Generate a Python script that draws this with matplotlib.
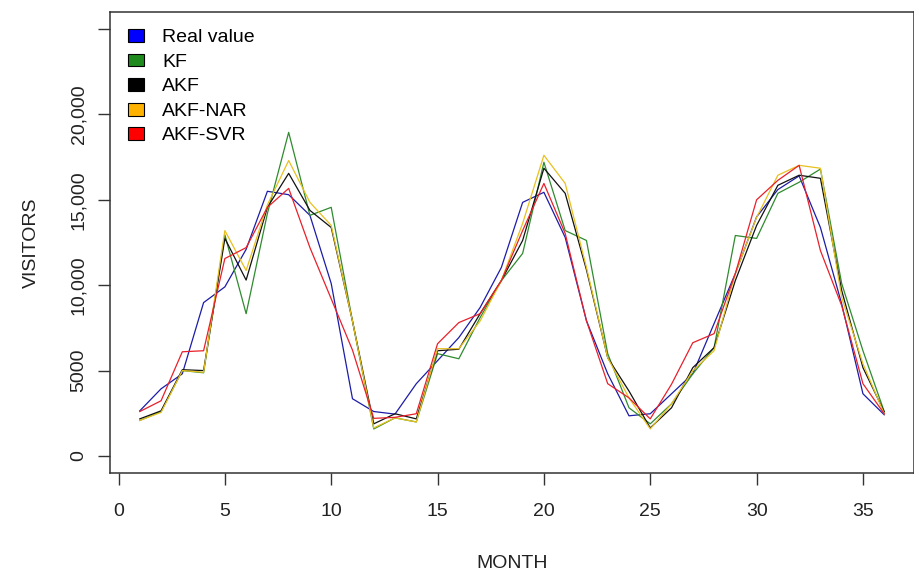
import numpy as np
import matplotlib
matplotlib.use('Agg')
import matplotlib.pyplot as plt
from matplotlib.patches import Patch
from matplotlib.ticker import FixedLocator

plt.rcParams['font.family'] = ['Liberation Sans', 'DejaVu Sans']

months = np.arange(1, 37)

real_value = [2640, 3930, 4810, 8980, 9900, 12100, 15500, 15300, 14090, 10100, 3350, 2600,
              2450, 4230, 5580, 6930, 8690, 11040, 14850, 15440, 12800, 7920, 4810, 2350,
              2470, 3640, 4810, 7750, 10680, 14000, 15600, 16400, 13380, 8900, 3640, 2410]
kf = [2080, 2600, 5000, 4870, 12950, 8330, 14200, 18950, 14090, 14560, 7900, 1580,
      2230, 1990, 5990, 5690, 8100, 10270, 11860, 17200, 13200, 12620, 5990, 2820,
      1880, 3050, 4810, 6340, 12910, 12740, 15380, 16030, 16800, 10100, 6160, 2600]
akf = [2170, 2640, 5050, 5000, 12740, 10300, 14560, 16550, 14380, 13380, 7900, 1880,
       2470, 2170, 6160, 6250, 8330, 10270, 12620, 16850, 15380, 10900, 5750, 3800,
       1640, 2820, 5170, 6340, 10270, 13500, 15850, 16440, 16260, 9690, 5170, 2580]
akf_nar = [2080, 2550, 5000, 4900, 13200, 10860, 14700, 17300, 14850, 13500, 7900, 1640,
           2230, 1990, 6280, 6280, 7900, 10270, 13620, 17610, 15960, 11040, 5750, 3400,
           1580, 3050, 4990, 6160, 10680, 13970, 16440, 17020, 16850, 9280, 5400, 2470]
akf_svr = [2600, 3230, 6100, 6160, 11560, 12200, 14560, 15670, 12200, 9200, 6200, 2200,
           2260, 2470, 6570, 7810, 8330, 10270, 13200, 15960, 13030, 7920, 4230, 3400,
           2170, 4200, 6630, 7160, 10680, 15000, 16140, 17020, 12030, 8800, 4230, 2470]

series_names = ['Real value', 'KF', 'AKF', 'AKF-NAR', 'AKF-SVR']
series = [real_value, kf, akf, akf_nar, akf_svr]
line_colors = ['#1c1ca8', '#2e8b2e', '#111111', '#e8c020', '#e8202a']
legend_colors = ['#0000ff', '#1e8a1e', '#000000', '#ffb300', '#ff0000']

x_ticks = [0, 5, 10, 15, 20, 25, 30, 35]
y_ticks = [0, 5000, 10000, 15000, 20000, 25000]
y_tick_labels = ['0', '5000', '10,000', '15,000', '20,000', '']

fig = plt.figure(figsize=(9.14, 5.72), dpi=100)
ax = fig.add_axes([110/914, 1-473/572, 804/914, 461/572])

for vals, c in zip(series, line_colors):
    ax.plot(months, vals, color=c, lw=0.9)

ax.set_xlim(-0.4, 37.4)
ax.set_ylim(-1000, 26000)
ax.xaxis.set_major_locator(FixedLocator(x_ticks))
ax.set_yticks(y_ticks)
ax.set_yticklabels(y_tick_labels, rotation=90, va='center')
ax.tick_params(direction='out', length=8.5, width=1.0, color='#333333',
               labelsize=14, labelcolor='#222222')
ax.tick_params(axis='x', pad=13)
ax.tick_params(axis='y', pad=8)
for sp in ax.spines.values():
    sp.set_color('#333333')
    sp.set_linewidth(1.1)

ax.set_xlabel('MONTH', fontsize=14, color='#222222', labelpad=25)
ax.set_ylabel('VISITORS', fontsize=14, color='#222222', labelpad=22)

handles = [Patch(facecolor=c, edgecolor='black', linewidth=0.8) for c in legend_colors]
ax.legend(handles, series_names, loc='upper left', bbox_to_anchor=(18/804, 1-17/461),
          frameon=False, fontsize=14, handlelength=0.8, handleheight=0.65,
          handletextpad=0.95, labelspacing=0.37, borderpad=0, borderaxespad=0)

fig.savefig('out.png', dpi=100)
